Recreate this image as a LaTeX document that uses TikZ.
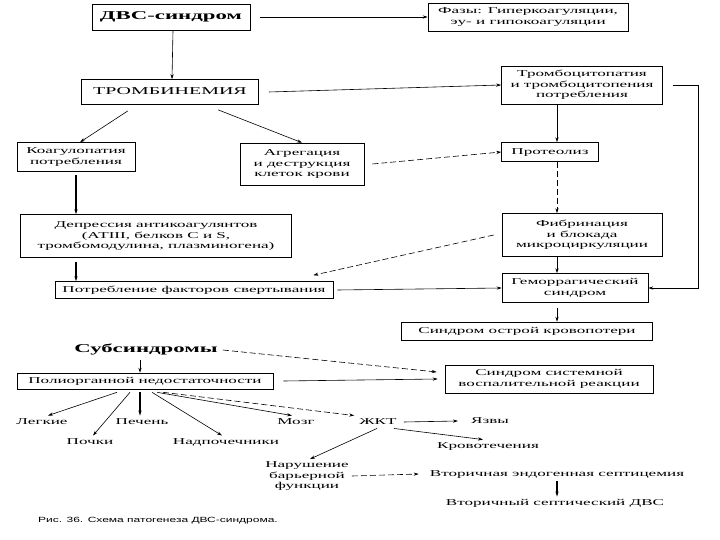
\documentclass[tikz,border=0pt]{standalone}
\usepackage{fontspec}
\usepackage{graphicx}
\setmainfont{Liberation Serif}
\newfontfamily\capfont{Liberation Sans}
\usetikzlibrary{arrows.meta}
\newcommand\tx[2][1.9]{\scalebox{#1}[1]{\begin{tabular}{@{}c@{}}#2\end{tabular}}}
\begin{document}
\begin{tikzpicture}[x=1pt,y=-1pt,
  every node/.style={font=\fontsize{9}{10.5}\selectfont, inner sep=1pt},
  box/.style={draw, line width=0.6pt, inner sep=0pt},
  arr/.style={-{Stealth[length=5pt,width=3.2pt]}, line width=0.6pt},
  darr/.style={arr, dash pattern=on 6pt off 3pt},
  thk/.style={arr, line width=1.1pt}]
\useasboundingbox (0,0) rectangle (720,540);
\fill[white] (0,0) rectangle (720,540);
% boxes
\node[box, minimum width=158, minimum height=26] (dvs) at (171,17) {\fontsize{12}{14}\selectfont\tx{\textbf{ДВС-синдром}}};
\node[box, minimum width=200, minimum height=28] (fazy) at (528,17) {\tx{Фазы: Гиперкоагуляции,\\эу- и гипокоагуляции}};
\node[box, minimum width=177, minimum height=25] (tromb) at (170,92) {\fontsize{10.5}{12}\selectfont\tx{ТРОМБИНЕМИЯ}};
\node[box, minimum width=161, minimum height=38] (tcp) at (582,85) {\tx{Тромбоцитопатия\\и тромбоцитопения\\потребления}};
\node[box, minimum width=118, minimum height=29] (koag) at (76,157) {\tx{Коагулопатия\\потребления}};
\node[box, minimum width=124, minimum height=42] (agr) at (302,164) {\tx{Агрегация\\и деструкция\\клеток крови}};
\node[box, minimum width=97, minimum height=19] (prot) at (550,152) {\tx{Протеолиз}};
\node[box, minimum width=160, minimum height=43] (fib) at (582,235) {\tx{Фибринация\\и блокада\\микроциркуляции}};
\node[box, minimum width=271, minimum height=43] (depr) at (156,236) {\tx{Депрессия антикоагулянтов\\(АТIII, белков С и S,\\тромбомодулина, плазминогена)}};
\node[box, minimum width=278, minimum height=17] (potr) at (194,290) {\tx{Потребление факторов свертывания}};
\node[box, minimum width=146, minimum height=29] (gem) at (575,288) {\tx{Геморрагический\\синдром}};
\node[box, minimum width=251, minimum height=18] (krov) at (527,331) {\tx{Синдром острой кровопотери}};
\node (subs) at (146,350) {\fontsize{12}{14}\selectfont\tx{\textbf{Субсиндромы}}};
\node[box, minimum width=256, minimum height=16] (polio) at (145,381) {\tx{Полиорганной недостаточности}};
\node[box, minimum width=208, minimum height=28] (ssvr) at (549,379) {\tx{Синдром системной\\воспалительной реакции}};
% leaf texts
\node (legk) at (42,422) {\tx{Легкие}};
\node (pochki) at (90,442) {\tx{Почки}};
\node (pechen) at (142,422) {\tx{Печень}};
\node (nadp) at (226,442) {\tx{Надпочечники}};
\node (mozg) at (296,422) {\tx{Мозг}};
\node (zhkt) at (378,422) {\tx{ЖКТ}};
\node (yazvy) at (490,421) {\tx{Язвы}};
\node (krovotech) at (488,446) {\tx{Кровотечения}};
\node (narush) at (307,476) {\tx{Нарушение\\барьерной\\функции}};
\node (vtor1) at (557,474) {\tx{Вторичная эндогенная септицемия}};
\node (vtor2) at (555,503) {\tx{Вторичный септический ДВС}};
\node (cap) at (158,521) {\capfont\fontsize{7.5}{9}\selectfont\tx[1.6]{Рис. 36. Схема патогенеза ДВС-синдрома.}};
% connectors
\draw[arr] ([xshift=10]dvs.east) -- (fazy.west);
\draw[arr] ([xshift=2]dvs.south) -- ([xshift=2]tromb.north);
\draw[arr] ([xshift=10]tromb.east) -- (tcp.west);
\draw[arr] ([xshift=-42,yshift=-6]tromb.south) -- ([xshift=4]koag.north);
\draw[arr] ([xshift=48,yshift=-5]tromb.south) -- (agr.north);
\draw[darr] ([xshift=8]agr.east) -- (prot.west);
\draw[arr] ([xshift=7]prot.north |- tcp.south) -- ([xshift=7]prot.north);
\draw[arr] ([xshift=10]tcp.east) -- ++(25,0) |- (gem.east);
\draw[darr] ([xshift=7]prot.south) -- ([xshift=7]prot.south |- fib.north);
\draw[arr] ([xshift=-25]fib.south) -- ([xshift=-25]fib.south |- gem.north);
\draw[darr] ([xshift=-8]fib.west) -- ([xshift=-20,yshift=6]potr.north east);
\draw[arr] ([xshift=4]potr.east) -- (gem.west);
\draw[thk] ([yshift=-3]koag.south) -- (koag.south |- depr.north);
\draw[thk] ([yshift=-4]koag.south |- depr.south) -- (koag.south |- potr.north);
\draw[arr] ([xshift=-18,yshift=-5]gem.south) -- ([xshift=-18]gem.south |- krov.north);
\draw[darr] ([xshift=4]subs.east) -- ([xshift=-8,yshift=7]ssvr.west);
\draw[arr] ([xshift=10]polio.east) -- ([xshift=-7]ssvr.west);
\draw[arr] ([xshift=-6,yshift=-2]subs.south) -- ([xshift=-6]subs.south |- polio.north);
\draw[arr] ([xshift=-28,yshift=-3]polio.south) -- ([xshift=6]legk.north);
\draw[arr] ([xshift=-15,yshift=-3]polio.south) -- ([xshift=3]pochki.north);
\draw[thk] ([xshift=-5,yshift=-3]polio.south) -- ([xshift=-5]polio.south |- pechen.north);
\draw[arr] ([xshift=7,yshift=-3]polio.south) -- ([xshift=-4]nadp.north);
\draw[arr] ([xshift=12,yshift=-3]polio.south) -- ([xshift=-4]mozg.north);
\draw[darr] ([xshift=18,yshift=-3]polio.south) -- ([xshift=-4]zhkt.north west);
\draw[arr] ([xshift=6]zhkt.east) -- ([xshift=-12]yazvy.west);
\draw[arr] ([xshift=-4]zhkt.south east) -- ([xshift=-5]krovotech.north);
\draw[arr] ([xshift=-1]zhkt.south) -- ([xshift=3]narush.north);
\draw[darr] ([xshift=2]narush.east) -- ([xshift=-10]vtor1.west);
\draw[thk] ([yshift=-1]vtor1.south) -- (vtor1.south |- vtor2.north);
\end{tikzpicture}
\end{document}
